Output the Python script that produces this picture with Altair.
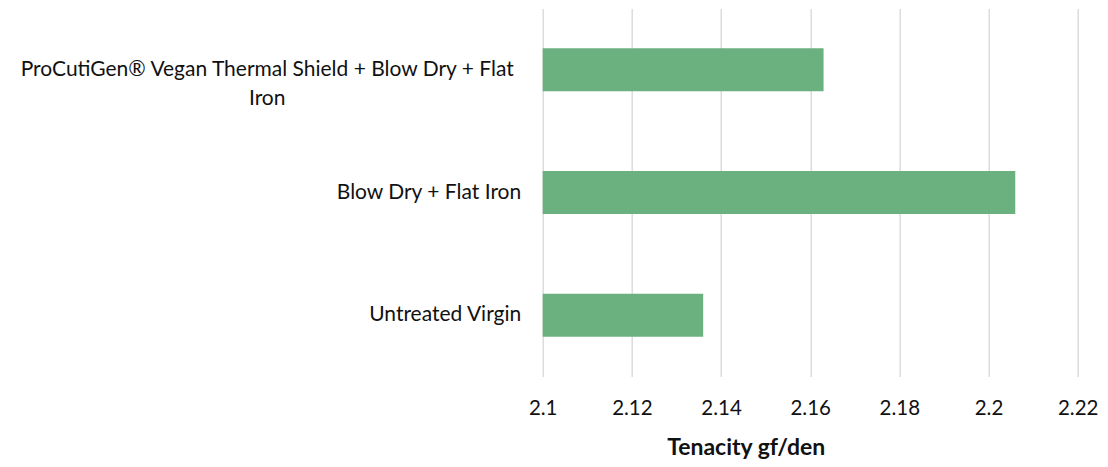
import altair as alt
import pandas as pd

categories = [
    "ProCutiGen® Vegan Thermal Shield + Blow Dry + Flat\nIron",
    "Blow Dry + Flat Iron",
    "Untreated Virgin",
]
tenacity = [2.163, 2.206, 2.136]
x_ticks = [2.1, 2.12, 2.14, 2.16, 2.18, 2.2, 2.22]

df = pd.DataFrame({"treatment": categories, "tenacity": tenacity})

FONT = "Lato"

chart = (
    alt.Chart(df)
    .mark_bar(color="#6bb17f", clip=True)
    .encode(
        x=alt.X(
            "tenacity:Q",
            scale=alt.Scale(domain=[2.1, 2.22], zero=False, nice=False),
            axis=alt.Axis(
                title="Tenacity gf/den",
                values=x_ticks,
                format="~g",
                grid=True,
                gridColor="#d9d9d9",
                gridWidth=1.4,
                domain=False,
                ticks=False,
                tickSize=0,
                labelFont=FONT,
                labelFontSize=20.5,
                labelColor="#111111",
                labelBaseline="alphabetic",
                labelPadding=38,
                labelFlush=False,
                titleFont=FONT,
                titleFontSize=23,
                titleFontWeight="bold",
                titleColor="#111111",
                titleX=203,
                titleY=78,
                titleAlign="center",
                titleBaseline="alphabetic",
            ),
        ),
        y=alt.Y(
            "treatment:N",
            sort=categories,
            scale=alt.Scale(paddingInner=0.65, paddingOuter=0.325),
            axis=alt.Axis(
                title=None,
                domain=False,
                ticks=False,
                tickSize=0,
                grid=False,
                labelExpr="split(datum.value, '\\n')",
                labelFont=FONT,
                labelFontSize=21,
                labelColor="#111111",
                labelLineHeight=29,
                labelLimit=600,
                labelAlign={
                    "condition": {"test": "indexof(datum.value, '\\n') >= 0", "value": "center"},
                    "value": "right",
                },
                labelPadding={
                    "condition": {"test": "indexof(datum.value, '\\n') >= 0", "value": 276},
                    "value": 22,
                },
            ),
        ),
    )
    .properties(
        width=535,
        height=368,
        autosize=alt.AutoSizeParams(type="none"),
        padding={"left": 534.7, "top": 0.5, "right": 22, "bottom": 82.5},
    )
    .configure_view(stroke=None)
)

chart.save("out.html", embed_options={"renderer": "svg", "actions": False})
